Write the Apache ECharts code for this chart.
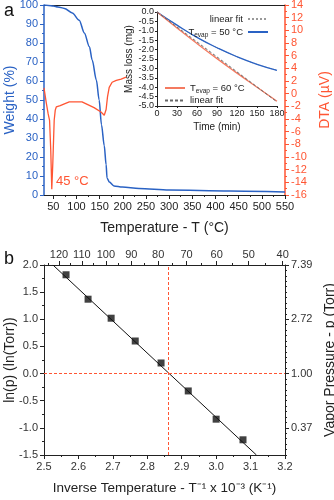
<!DOCTYPE html>
<html>
<head>
	<meta charset="UTF-8">
	<title></title>
	<style>
		html, body { margin: 0; padding: 0; background: #fff; }
		#chart { width: 334px; height: 500px; }
	</style>
	<script src="https://cdn.jsdelivr.net/npm/echarts@6/dist/echarts.min.js"></script>
</head>
<body>
	<div id="chart"></div>
	<script>
		// panel a : TGA / DTA
		var tgaT = [30, 40, 50, 60, 74, 91, 106, 117, 128, 134, 143, 149, 154, 160, 164, 166, 171, 181, 199, 235, 300, 430, 550];
		var tgaW = [100, 99.8, 99.5, 99, 98.2, 95.8, 92, 85.3, 78, 71, 60.5, 50, 37, 26, 16, 9, 6.8, 4.8, 4.2, 3.4, 2.6, 2.1, 1.6];
		var dtaT = [30, 35, 39, 42, 44.6, 46.8, 49, 52, 54.3, 56.5, 65, 74, 84.5, 112, 138, 153, 160, 164, 167, 170.7, 177, 186, 196.5, 207];
		var dtaV = [0.9, -1.5, -3.2, -4.2, -9, -15.1, -11, -4.2, -2.6, -2.1, -1.9, -1.6, -1.3, -1.3, -2.2, -2.9, -3.4, -2.5, -0.5, 1.0, 1.8, 2.1, 2.3, 2.6];
		var tempTicks = [50, 100, 150, 200, 250, 300, 350, 400, 450, 500, 550];
		var tempMinor = [75, 125, 175, 225, 275, 325, 375, 425, 475, 525];

		// inset : isothermal mass loss
		var timeMin = [0, 30, 60, 90, 120, 150, 180];
		var loss50 = [0, -0.7, -1.35, -1.9, -2.38, -2.78, -3.1];
		var loss60 = [0, -0.85, -1.68, -2.48, -3.25, -4.0, -4.75];
		var fitTime = [0, 180];
		var fit60 = [0, -4.78];

		// panel b : Clausius-Clapeyron
		var invT = [2.564, 2.628, 2.695, 2.765, 2.840, 2.919, 3.000, 3.078];
		var lnP = [1.82, 1.37, 1.02, 0.60, 0.195, -0.32, -0.84, -1.22];
		var fitX = [2.526, 3.117];
		var fitY = [2.0, -1.5];
		var crossX = 2.863;
		var topTemps = [120, 110, 100, 90, 80, 70, 60, 50, 40];
		var topMinorTemps = [125, 115, 105, 95, 85, 75, 65, 55, 45];
		var pLabels = [2, 1, 0, -1];

		var BLUE = '#2a62c4';
		var RED = '#ff5533';
		var SALMON = '#f47a60';
		var FONT = 'Liberation Sans';

		function zip(a, b) {
			return a.map(function (v, i) { return [v, b[i]]; });
		}
		function toInv(t) { return 1000 / (t + 273.15); }

		var legendNames = {
			'fit50': 'linear fit',
			'T50': '{t|T}{s|evap}{t| = 50 °C}',
			'T60': '{t|T}{s|evap}{t| = 60 °C}',
			'fit60': 'linear fit'
		};
		var legendText = {
			fontFamily: FONT, fontSize: 9.5, color: '#222',
			rich: {
				t: { fontFamily: FONT, fontSize: 9.5, color: '#222' },
				s: { fontFamily: FONT, fontSize: 6.5, color: '#222', padding: [6, 0, 0, 0] }
			}
		};

		var mychart = echarts.init(document.getElementById('chart'));
		mychart.setOption({
			animation: false,
			textStyle: { fontFamily: FONT },
			grid: [
				{ left: 44, top: 5, width: 241, height: 190, outerBoundsMode: 'none' },
				{ left: 157, top: 12, width: 120, height: 94, outerBoundsMode: 'none' },
				{ left: 44, top: 265, width: 241, height: 190, outerBoundsMode: 'none' }
			],
			legend: [
				{
					orient: 'vertical', right: 60, top: 9, align: 'right',
					itemWidth: 20, itemHeight: 8, itemGap: 3,
					itemStyle: { opacity: 0 },
					data: ['fit50', 'T50'],
					formatter: function (n) { return legendNames[n]; },
					textStyle: legendText
				},
				{
					orient: 'vertical', left: 159, top: 78, align: 'left',
					itemWidth: 20, itemHeight: 8, itemGap: 1,
					itemStyle: { opacity: 0 },
					data: ['T60', 'fit60'],
					formatter: function (n) { return legendNames[n]; },
					textStyle: legendText
				}
			],
			xAxis: [
				{
					gridIndex: 0, type: 'value', min: 30, max: 550, position: 'bottom',
					name: 'Temperature - T (°C)', nameLocation: 'middle', nameGap: 26,
					nameTextStyle: { fontSize: 14, color: '#222' },
					axisLine: { onZero: false, lineStyle: { color: '#222' } },
					axisTick: { customValues: tempTicks, length: 4, lineStyle: { color: '#222' } },
					axisLabel: { customValues: tempTicks, fontSize: 11, color: '#222', margin: 6 },
					splitLine: { show: false }
				},
				{
					gridIndex: 0, type: 'value', min: 30, max: 550, position: 'bottom',
					axisLine: { show: false, onZero: false },
					axisTick: { customValues: tempMinor, length: 2, lineStyle: { color: '#222' } },
					axisLabel: { show: false },
					splitLine: { show: false }
				},
				{
					gridIndex: 0, type: 'value', min: 30, max: 550, position: 'top',
					axisLine: { onZero: false, lineStyle: { color: '#222' } },
					axisTick: { show: false },
					axisLabel: { show: false },
					splitLine: { show: false }
				},
				{
					gridIndex: 1, type: 'value', min: 0, max: 180, interval: 30,
					name: 'Time (min)', nameLocation: 'middle', nameGap: 16,
					nameTextStyle: { fontSize: 10, color: '#222' },
					axisLine: { onZero: false, lineStyle: { color: '#222' } },
					axisTick: { length: 2, lineStyle: { color: '#222' } },
					axisLabel: { fontSize: 9, color: '#222', margin: 3 },
					splitLine: { show: false }
				},
				{
					gridIndex: 2, type: 'value', min: 2.5, max: 3.2, interval: 0.1, position: 'bottom',
					name: 'Inverse Temperature - T⁻¹ x 10⁻³ (K⁻¹)', nameLocation: 'middle', nameGap: 26,
					nameTextStyle: { fontSize: 13.5, color: '#222' },
					axisLine: { onZero: false, lineStyle: { color: '#222' } },
					axisTick: { length: 4, lineStyle: { color: '#222' } },
					minorTick: { show: true, splitNumber: 2, length: 2, lineStyle: { color: '#222' } },
					axisLabel: { fontSize: 11, color: '#333', margin: 6, formatter: function (v) { return v.toFixed(1); } },
					splitLine: { show: false }
				},
				{
					gridIndex: 2, type: 'value', min: 2.5, max: 3.2, position: 'top',
					axisLine: { onZero: false, lineStyle: { color: '#222' } },
					axisTick: { customValues: topTemps.map(toInv), length: 4, lineStyle: { color: '#222' } },
					axisLabel: {
						customValues: topTemps.map(toInv), fontSize: 11, color: '#333', margin: 5,
						formatter: function (v) { return Math.round(1000 / v - 273.15); }
					},
					splitLine: { show: false }
				},
				{
					gridIndex: 2, type: 'value', min: 2.5, max: 3.2, position: 'top',
					axisLine: { show: false, onZero: false },
					axisTick: { customValues: topMinorTemps.map(toInv), length: 2, lineStyle: { color: '#222' } },
					axisLabel: { show: false },
					splitLine: { show: false }
				}
			],
			yAxis: [
				{
					gridIndex: 0, type: 'value', min: 0, max: 100, interval: 10, position: 'left',
					name: 'Weight (%)', nameLocation: 'middle', nameGap: 27, nameMoveOverlap: false,
					nameTextStyle: { fontSize: 14, color: BLUE },
					axisLine: { onZero: false, lineStyle: { color: BLUE, width: 1.5 } },
					axisTick: { length: 4, lineStyle: { color: BLUE } },
					minorTick: { show: true, splitNumber: 2, length: 2, lineStyle: { color: BLUE } },
					axisLabel: { fontSize: 11, color: BLUE, margin: 6 },
					splitLine: { show: false }
				},
				{
					gridIndex: 0, type: 'value', min: -16, max: 14, interval: 2, position: 'right',
					name: 'DTA (µV)', nameLocation: 'middle', nameGap: 27, nameRotate: 90,
					nameTextStyle: { fontSize: 14, color: RED },
					axisLine: { onZero: false, lineStyle: { color: RED, width: 1.5 } },
					axisTick: { length: 4, lineStyle: { color: RED } },
					minorTick: { show: true, splitNumber: 2, length: 2, lineStyle: { color: RED } },
					axisLabel: { fontSize: 11, color: RED, margin: 6 },
					splitLine: { show: false }
				},
				{
					gridIndex: 1, type: 'value', min: -5, max: 0, interval: 0.5,
					name: 'Mass loss (mg)', nameLocation: 'middle', nameGap: 21,
					nameTextStyle: { fontSize: 10, color: '#222' },
					axisLine: { onZero: false, lineStyle: { color: '#222' } },
					axisTick: { length: 2, lineStyle: { color: '#222' } },
					axisLabel: { fontSize: 9, color: '#222', margin: 3, formatter: function (v) { return v.toFixed(1); } },
					splitLine: { show: false }
				},
				{
					gridIndex: 2, type: 'value', min: -1.5, max: 2, interval: 0.5, position: 'left',
					name: 'ln(p) (ln(Torr))', nameLocation: 'middle', nameGap: 27, nameMoveOverlap: false,
					nameTextStyle: { fontSize: 14, color: '#222' },
					axisLine: { onZero: false, lineStyle: { color: '#222' } },
					axisTick: { length: 4, lineStyle: { color: '#222' } },
					minorTick: { show: true, splitNumber: 2, length: 2, lineStyle: { color: '#222' } },
					axisLabel: { fontSize: 11, color: '#333', margin: 6, formatter: function (v) { return v.toFixed(1); } },
					splitLine: { show: false }
				},
				{
					gridIndex: 2, type: 'value', min: -1.5, max: 2, position: 'right',
					name: 'Vapor Pressure - p (Torr)', nameLocation: 'middle', nameGap: 27, nameRotate: 90,
					nameTextStyle: { fontSize: 14, color: '#222' },
					axisLine: { onZero: false, lineStyle: { color: '#222' } },
					axisTick: { customValues: pLabels, length: 4, lineStyle: { color: '#222' } },
					axisLabel: {
						customValues: pLabels, fontSize: 11, color: '#333', margin: 6,
						formatter: function (v) { return Math.exp(v).toFixed(2); }
					},
					splitLine: { show: false }
				},
				{
					gridIndex: 2, type: 'value', min: -1.5, max: 2, interval: 0.1, position: 'right',
					axisLine: { show: false, onZero: false },
					axisTick: { length: 2, lineStyle: { color: '#222' } },
					axisLabel: { show: false },
					splitLine: { show: false }
				}
			],
			graphic: [
				{ type: 'text', left: 4, top: 2, style: { text: 'a', fontSize: 18, fontFamily: FONT, fill: '#111' } },
				{ type: 'text', left: 4, top: 250, style: { text: 'b', fontSize: 18, fontFamily: FONT, fill: '#111' } },
				{ type: 'text', left: 56, top: 175, style: { text: '45 °C', fontSize: 13, fontFamily: FONT, fill: RED } }
			],
			series: [
				{
					type: 'line', name: 'TGA', xAxisIndex: 0, yAxisIndex: 0,
					data: zip(tgaT, tgaW), symbol: 'none', smooth: 0.3, smoothMonotone: 'x',
					lineStyle: { color: BLUE, width: 1.5 }
				},
				{
					type: 'line', name: 'DTA', xAxisIndex: 0, yAxisIndex: 1,
					data: zip(dtaT, dtaV), symbol: 'none',
					lineStyle: { color: RED, width: 1.3 }
				},
				{
					type: 'line', name: 'fit50', xAxisIndex: 3, yAxisIndex: 2,
					data: zip(timeMin, loss50), symbol: 'none', smooth: true,
					itemStyle: { color: '#999' },
					lineStyle: { color: '#999', width: 1, type: 'dotted' }
				},
				{
					type: 'line', name: 'T50', xAxisIndex: 3, yAxisIndex: 2,
					data: zip(timeMin, loss50), symbol: 'none', smooth: true,
					itemStyle: { color: BLUE },
					lineStyle: { color: BLUE, width: 1.3 }
				},
				{
					type: 'line', name: 'T60', xAxisIndex: 3, yAxisIndex: 2,
					data: zip(timeMin, loss60), symbol: 'none', smooth: true,
					itemStyle: { color: SALMON },
					lineStyle: { color: SALMON, width: 1.3 }
				},
				{
					type: 'line', name: 'fit60', xAxisIndex: 3, yAxisIndex: 2,
					data: zip(fitTime, fit60), symbol: 'none',
					itemStyle: { color: '#666' },
					lineStyle: { color: '#666', width: 1, type: [3, 2] }
				},
				{
					type: 'line', name: 'fit', xAxisIndex: 4, yAxisIndex: 3,
					data: zip(fitX, fitY), symbol: 'none',
					lineStyle: { color: '#111', width: 1 },
					markLine: {
						silent: true, symbol: 'none', label: { show: false },
						lineStyle: { color: RED, width: 1, type: [3, 2] },
						data: [{ yAxis: 0 }, { xAxis: crossX }]
					}
				},
				{
					type: 'scatter', name: 'data', xAxisIndex: 4, yAxisIndex: 3,
					data: zip(invT, lnP), symbol: 'rect', symbolSize: 7,
					itemStyle: { color: '#111' }
				}
			]
		});
	</script>
</body>
</html>
